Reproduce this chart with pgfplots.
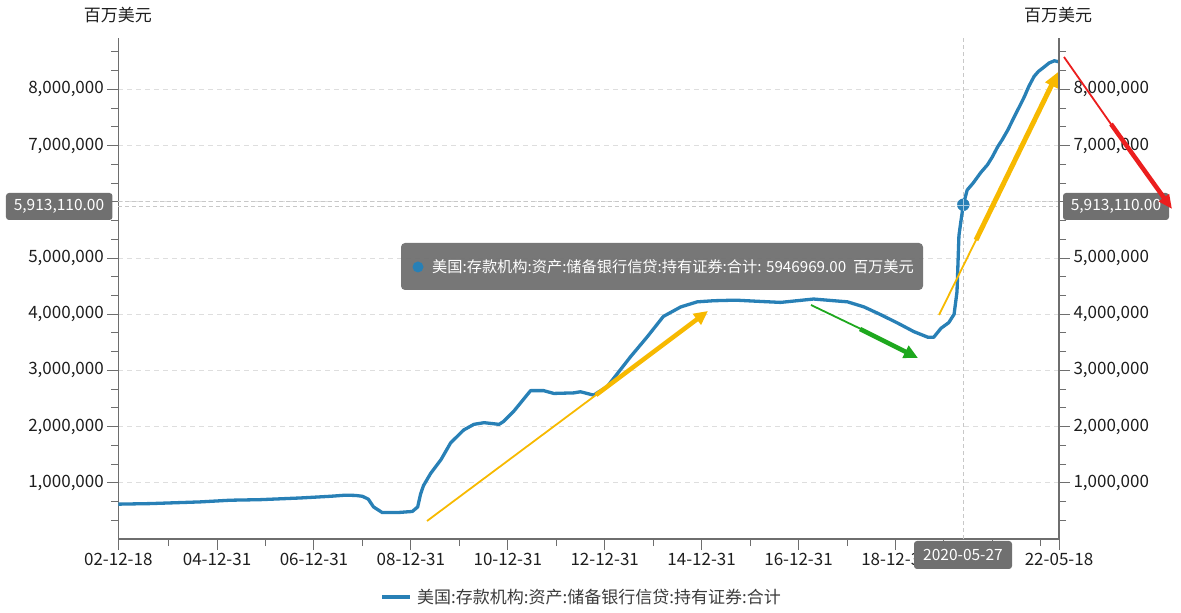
\documentclass[border=0pt]{standalone}
\usepackage{pgfplots}
\usepackage{pgfplotstable}
\pgfplotsset{compat=1.18}
\usepackage{fontspec}
\setmainfont{Noto Sans CJK SC}
\usetikzlibrary{arrows.meta}

\definecolor{series}{RGB}{40,128,182}
\definecolor{axisgray}{RGB}{110,110,110}
\definecolor{gridgray}{RGB}{222,222,222}
\definecolor{crossgray}{RGB}{200,200,200}
\definecolor{tipgray}{RGB}{112,112,112}
\definecolor{txt}{RGB}{30,30,30}
\definecolor{legtxt}{RGB}{60,60,60}
\definecolor{ayellow}{RGB}{247,185,0}
\definecolor{agreen}{RGB}{30,168,30}
\definecolor{ared}{RGB}{235,30,30}

\newcommand{\fs}[1]{\fontsize{#1pt}{#1pt}\selectfont}

% year (decimal), value in millions of USD
\pgfplotstableread{
x y
2002.962 620000
2003.62 630000
2004.65 660000
2005.27 690000
2005.89 700000
2006.72 730000
2007.34 760000
2007.65 780000
2007.86 775000
2008.00 760000
2008.12 710000
2008.23 570000
2008.41 470000
2008.72 470000
2009.03 490000
2009.14 570000
2009.20 800000
2009.26 950000
2009.41 1170000
2009.62 1410000
2009.82 1710000
2010.09 1940000
2010.30 2040000
2010.51 2070000
2010.82 2040000
2010.91 2090000
2011.12 2270000
2011.47 2640000
2011.74 2640000
2011.95 2590000
2012.36 2600000
2012.50 2620000
2012.77 2560000
2013.05 2710000
2013.53 3240000
2013.88 3600000
2014.21 3960000
2014.57 4130000
2014.91 4220000
2015.25 4240000
2015.70 4250000
2016.15 4230000
2016.63 4210000
2017.31 4270000
2018.01 4220000
2018.35 4130000
2018.70 3990000
2019.05 3840000
2019.38 3690000
2019.67 3590000
2019.79 3590000
2019.94 3750000
2020.10 3850000
2020.21 4000000
2020.27 4400000
2020.31 5400000
2020.35 5650000
2020.40 5946969
2020.48 6210000
2020.60 6330000
2020.76 6520000
2020.90 6660000
2021.00 6800000
2021.11 6980000
2021.20 7100000
2021.32 7280000
2021.45 7510000
2021.55 7680000
2021.66 7870000
2021.75 8050000
2021.86 8230000
2021.95 8320000
2022.07 8400000
2022.17 8470000
2022.28 8510000
2022.375 8490000
}\seriesdata

\begin{document}
\begin{tikzpicture}
\pgfplotsset{
  common/.style={
    scale only axis, width=940.7pt, height=501pt,
    at={(0pt,0pt)}, anchor=south west,
    xmin=2002.962, xmax=2022.375,
    ymin=0, ymax=8915000,
    ytick={1000000,2000000,3000000,4000000,5000000,6000000,7000000,8000000},
    % the 6,000,000 label sits under the crosshair label in the reference
    yticklabels={1{,}000{,}000,2{,}000{,}000,3{,}000{,}000,4{,}000{,}000,5{,}000{,}000,,7{,}000{,}000,8{,}000{,}000},
    minor ytick={333333,666667,1333333,1666667,2333333,2666667,3333333,3666667,4333333,4666667,5333333,5666667,6333333,6666667,7333333,7666667,8333333,8666667},
    scaled y ticks=false,
    tick align=outside,
    major tick length=11pt, minor tick length=7pt,
    tick style={axisgray, line width=1pt},
    axis line style={axisgray, line width=1.2pt, -},
    ticklabel style={font=\fs{17}, text=txt},
    clip=false,
  }
}
\begin{axis}[common,
    axis x line*=bottom, axis y line*=left,
    xtick={2002.962,2005,2007,2009,2011,2013,2015,2017,2019,2021,2022.375},
    xticklabels={02-12-18,04-12-31,06-12-31,08-12-31,10-12-31,12-12-31,14-12-31,16-12-31,18-12-31,,22-05-18},
    minor xtick={2004,2006,2008,2010,2012,2014,2016,2018,2020,2022},
    ymajorgrids,
    major grid style={gridgray, line width=1pt, dash pattern=on 5pt off 4pt},
  ]
  % crosshair
  \addplot[crossgray, line width=1pt, dash pattern=on 4pt off 3pt] coordinates {(2002.962,5913110) (2022.375,5913110)};
  \addplot[crossgray, line width=1pt, dash pattern=on 4pt off 3pt] coordinates {(2002.962,6000000) (2022.375,6000000)};
  \addplot[crossgray, line width=1pt, dash pattern=on 4pt off 3pt] coordinates {(2020.40,0) (2020.40,8915000)};
  \addplot[series, line width=3.3pt, line join=round] table[x=x, y=y] {\seriesdata};
  \addplot[only marks, mark=*, mark size=6pt, mark options={fill=series, draw=series}] coordinates {(2020.40,5946969)};
\end{axis}
\begin{axis}[common,
    axis x line=none, axis y line*=right,
    yticklabel pos=right,
  ]
  \addplot[draw=none] coordinates {(2010,1000000)};
\end{axis}

\begin{scope}[shift={(-118.3pt,539pt)}, x=1pt, y=-1pt]
  % crosshair through marker
  \draw[white, opacity=0.6, line width=0.8pt] (957,205) -- (969,205) (963,199) -- (963,211);
  % axis titles
  \node[text=txt, font=\fs{17}] at (118,15) {百万美元};
  \node[text=txt, font=\fs{17}] at (1058,15) {百万美元};
  % tooltip
  \fill[tipgray, opacity=0.95, rounded corners=4pt] (401,243) rectangle (923,290);
  \fill[series] (418,267) circle (5.5);
  \node[anchor=west, text=white, font=\fs{15.2}, inner sep=0pt] at (432,267) {美国:存款机构:资产:储备银行信贷:持有证券:合计: 5946969.00\ \ 百万美元};
  % crosshair labels
  \fill[tipgray, rounded corners=3pt] (6,193) rectangle (112.5,220);
  \node[text=white, font=\fs{15.5}] at (59,206.5) {5,913,110.00};
  \fill[tipgray, rounded corners=3pt] (1063,193) rectangle (1169,220);
  \node[text=white, font=\fs{15.5}] at (1116,206.5) {5,913,110.00};
  \fill[tipgray, rounded corners=3pt] (914,541) rectangle (1012,569);
  \node[text=white, font=\fs{15.5}] at (963,555) {2020-05-27};
  % legend
  \draw[series, line width=3.5pt] (382,597) -- (410,597);
  \node[anchor=west, text=legtxt, font=\fs{17}, inner sep=0pt] at (417,597) {美国:存款机构:资产:储备银行信贷:持有证券:合计};
  % annotation arrows
  \draw[ayellow, line width=1.8pt] (427,521) -- (600,392);
  \draw[ayellow, line width=4.5pt, -{Triangle[length=14pt,width=13pt]}] (596,395) -- (708,311);
  \draw[agreen, line width=1.8pt] (811,305) -- (863,330);
  \draw[agreen, line width=4.5pt, -{Triangle[length=14pt,width=13pt]}] (860,329) -- (918,358);
  \draw[ayellow, line width=1.8pt] (939,315) -- (978,236);
  \draw[ayellow, line width=5pt, -{Triangle[length=15pt,width=13pt]}] (976,240) -- (1058,72);
  \draw[ared, line width=1.8pt] (1064,57) -- (1113,127);
  \draw[ared, line width=4.5pt, -{Triangle[length=14pt,width=12pt]}] (1111,124) -- (1172,209);
\end{scope}
\pgfresetboundingbox
\path (-118.3pt,-74pt) rectangle (1062.7pt,539pt);
\end{tikzpicture}
\end{document}
